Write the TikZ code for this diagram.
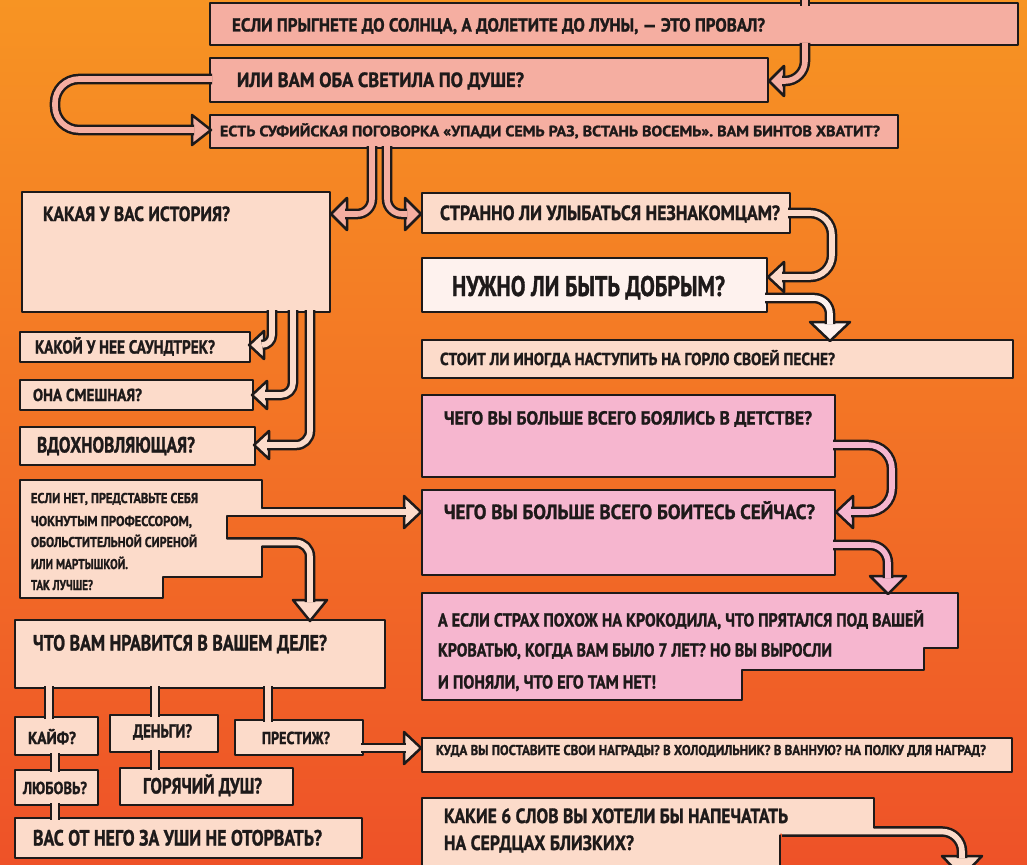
\documentclass[tikz,border=0pt]{standalone}
\usepackage{fontspec}
\setmainfont{PT Sans}[BoldFeatures={FakeBold=1.4}]
\usepackage{graphicx}
\usetikzlibrary{calc}
\definecolor{bgA}{HTML}{F79423}
\definecolor{bgB}{HTML}{F37424}
\definecolor{bgC}{HTML}{EE5228}
\definecolor{salmon}{HTML}{F5AEA1}
\definecolor{peach}{HTML}{FCDBCA}
\definecolor{palew}{HTML}{FEF2EE}
\definecolor{pinkb}{HTML}{F6B6CF}
\definecolor{ink}{HTML}{1E1A1A}
\newcommand\cf[1]{\fontsize{#1pt}{#1pt}\selectfont\bfseries}
\newcommand\fw[2]{\resizebox{#1pt}{\height}{#2}}
\begin{document}
\begin{tikzpicture}[x=1pt,y=-1pt,
  bx/.style={draw=ink, line width=2.5pt, line join=round, inner sep=0pt, outer sep=0pt, anchor=north west},
  ghost/.style={inner sep=0pt, outer sep=0pt, anchor=north west},
  lab/.style={anchor=base west, inner sep=0pt, outer sep=0pt, text=ink},
  fat/.style={draw=ink, double=#1, double distance=5.6pt, line width=2.5pt, line join=round},
  rim/.style={draw=ink, line width=2.5pt, line join=round, line cap=round},
  pics/ah/.style args={#1/#2/#3}{code={\draw[draw=ink, fill=#1, line width=2.5pt, line join=round] (0pt,0pt) -- (-#2pt,#3pt) -- (-#2pt,-#3pt) -- cycle;}}
]
\useasboundingbox (0,0) rectangle (1027,864);
\clip (0,0) rectangle (1027,864);
\shade[top color=bgA, middle color=bgB, bottom color=bgC] (0,0) rectangle (1027,864);

% ---------- simple boxes ----------
\node[bx, fill=salmon, minimum width=808pt, minimum height=42pt] (b1) at (210,3) {};
\node[bx, fill=salmon, minimum width=558pt, minimum height=44pt] (b2) at (210,58) {};
\node[bx, fill=salmon, minimum width=688pt, minimum height=33pt] (b3) at (210,115) {};
\node[bx, fill=peach, minimum width=308pt, minimum height=120pt] (b4) at (22,192) {};
\node[bx, fill=peach, minimum width=368pt, minimum height=40pt] (s1) at (422,193) {};
\node[bx, fill=palew, minimum width=345pt, minimum height=54pt] (s2) at (422,258) {};
\node[bx, fill=peach, minimum width=591pt, minimum height=38pt] (s3) at (422,340) {};
\node[bx, fill=pinkb, minimum width=413pt, minimum height=82pt] (p1) at (422,395) {};
\node[bx, fill=pinkb, minimum width=413pt, minimum height=85pt] (p2) at (422,490) {};
\node[bx, fill=peach, minimum width=230pt, minimum height=30pt] (l1) at (20,332) {};
\node[bx, fill=peach, minimum width=233pt, minimum height=30pt] (l2) at (20,380) {};
\node[bx, fill=peach, minimum width=235pt, minimum height=38pt] (l3) at (20,427) {};
\node[bx, fill=peach, minimum width=370pt, minimum height=68pt] (w0) at (15,620) {};
\node[bx, fill=peach, minimum width=83pt, minimum height=38pt] (w1) at (15,717) {};
\node[bx, fill=peach, minimum width=108pt, minimum height=37pt] (w2) at (110,715) {};
\node[bx, fill=peach, minimum width=128pt, minimum height=35pt] (w3) at (235,720) {};
\node[bx, fill=peach, minimum width=83pt, minimum height=35pt] (w4) at (15,770) {};
\node[bx, fill=peach, minimum width=173pt, minimum height=37pt] (w5) at (120,768) {};
\node[bx, fill=peach, minimum width=347pt, minimum height=40pt] (w6) at (15,818) {};
\node[bx, fill=peach, minimum width=590pt, minimum height=34pt] (q1) at (422,738) {};

% ---------- stepped boxes ----------
\node[ghost, minimum width=536pt, minimum height=107pt] (p3) at (422,593) {};
\draw[rim, fill=pinkb] (p3.north west) -- (p3.north east) -- (958,648) -- (924,648) -- (924,670) -- (742,670) -- (742,700) -- (p3.south west) -- cycle;

\node[ghost, minimum width=242pt, minimum height=118pt] (e1) at (20,480) {};
\pic[rotate=0] at ($(p2.west |- 0,512)+(-1,0)$) {ah={peach/17/16}};
\draw[fat=peach] ($(e1.east |- 0,512)+(-35,0)$) -- ($(p2.west |- 0,512)+(-16,0)$);
\pic[rotate=-90] at ($(310,0 |- w0.north)+(0,1)$) {ah={peach/21/17}};
\draw[fat=peach, rounded corners=14pt] ($(e1.east |- 0,542.5)+(-35,0)$) -- (310,542.5) -- ($(310,0 |- w0.north)+(0,-18)$);
\fill[peach] (e1.north west) -- (e1.north east) -- (262,509.6) -- (227,509.6) -- (227,544.4) -- (262,544.4) -- (262,577) -- (163,577) -- (163,598) -- (e1.south west) -- cycle;
\draw[rim] (262,508) -- (e1.north east) -- (e1.north west) -- (e1.south west) -- (163,598) -- (163,577) -- (262,577) -- (262,546.5);
\draw[rim] (227,516) -- (227,538.5);

\node[ghost, minimum width=452pt, minimum height=82pt] (k1) at (422,798) {};
\coordinate (koff) at (962,877);
\pic[rotate=-90] at (koff) {ah={peach/21/20}};
\draw[fat=peach, rounded corners=20pt] ($(k1.east |- 0,831.5)+(-92,0)$) -- (962,831.5) -- ($(koff)+(0,-19)$);
\fill[peach] (k1.north west) -- (k1.north east) -- (874,833.5) -- (780,833.5) -- (780,880) -- (k1.south west) -- cycle;
\draw[rim] (874,827.5) -- (k1.north east) -- (k1.north west) -- (422,880);
\draw[rim] (780,835.5) -- (780,880);

% ---------- connectors ----------
\coordinate (offtop) at (805,-10);
\draw[fat=salmon] (offtop) -- ($(805,0 |- b1.north)+(0,3)$);
\pic[rotate=180] at ($(b2.east |- 0,81)+(1,0)$) {ah={salmon/15/15}};
\draw[fat=salmon, rounded corners=20pt] ($(805,0 |- b1.south)+(0,-2)$) -- (805,81) -- ($(b2.east |- 0,81)+(14,0)$);
\pic[rotate=0] at ($(b3.west |- 0,130)+(1,0)$) {ah={salmon/19/15}};
\draw[fat=salmon, rounded corners=24pt] ($(b2.west |- 0,79)+(2,0)$) -- (55,79) -- (55,130) -- ($(b3.west |- 0,130)+(-16,0)$);
\pic[rotate=180] at ($(b4.east |- 0,214)+(1,0)$) {ah={salmon/16/16}};
\draw[fat=salmon, rounded corners=15pt] ($(372,0 |- b3.south)+(0,-2)$) -- (372,214) -- ($(b4.east |- 0,214)+(15,0)$);
\pic[rotate=0] at ($(s1.west |- 0,214)+(-1,0)$) {ah={salmon/16/16}};
\draw[fat=salmon, rounded corners=15pt] ($(387,0 |- b3.south)+(0,-2)$) -- (387,214) -- ($(s1.west |- 0,214)+(-15,0)$);
\pic[rotate=180] at ($(l1.east |- 0,345)+(-1,0)$) {ah={peach/15/14}};
\draw[fat=peach, rounded corners=10pt] ($(272,0 |- b4.south)+(0,-2)$) -- (272,345) -- ($(l1.east |- 0,345)+(12,0)$);
\pic[rotate=180] at ($(l2.east |- 0,395)+(-1,0)$) {ah={peach/15/14}};
\draw[fat=peach, rounded corners=12pt] ($(293,0 |- b4.south)+(0,-2)$) -- (293,395) -- ($(l2.east |- 0,395)+(12,0)$);
\pic[rotate=180] at ($(l3.east |- 0,445)+(-1,0)$) {ah={peach/15/14}};
\draw[fat=peach, rounded corners=14pt] ($(310,0 |- b4.south)+(0,-2)$) -- (310,445) -- ($(l3.east |- 0,445)+(12,0)$);
\pic[rotate=180] at ($(s2.east |- 0,277)+(1,0)$) {ah={peach/16/15}};
\draw[fat=peach, rounded corners=22pt] ($(s1.east |- 0,213)+(-2,0)$) -- (832,213) -- (832,277) -- ($(s2.east |- 0,277)+(15,0)$);
\pic[rotate=-90] at ($(830,0 |- s3.north)+(0,1)$) {ah={palew/19/20}};
\draw[fat=palew, rounded corners=16pt] ($(s2.east |- 0,298)+(-2,0)$) -- (830,298) -- ($(830,0 |- s3.north)+(0,-16)$);
\pic[rotate=180] at ($(p2.east |- 0,512)+(1,0)$) {ah={pinkb/17/16}};
\draw[fat=pinkb, rounded corners=24pt] ($(p1.east |- 0,445)+(-2,0)$) -- (892,445) -- (892,512) -- ($(p2.east |- 0,512)+(16,0)$);
\pic[rotate=-90] at ($(888,0 |- p3.north)+(0,1)$) {ah={pinkb/18/18}};
\draw[fat=pinkb, rounded corners=18pt] ($(p2.east |- 0,545)+(-2,0)$) -- (888,545) -- ($(888,0 |- p3.north)+(0,-15)$);
\draw[fat=peach] ($(49,0 |- w0.south)+(0,-2)$) -- ($(49,0 |- w1.north)+(0,2)$);
\draw[fat=peach] ($(155,0 |- w0.south)+(0,-2)$) -- ($(155,0 |- w2.north)+(0,2)$);
\draw[fat=peach] ($(268,0 |- w0.south)+(0,-2)$) -- ($(268,0 |- w3.north)+(0,2)$);
\draw[fat=peach] ($(55,0 |- w1.south)+(0,-2)$) -- ($(55,0 |- w4.north)+(0,2)$);
\draw[fat=peach] ($(155,0 |- w2.south)+(0,-2)$) -- ($(155,0 |- w5.north)+(0,2)$);
\draw[fat=peach] ($(55,0 |- w4.south)+(0,-2)$) -- ($(55,0 |- w6.north)+(0,2)$);
\pic[rotate=0] at ($(q1.west |- 0,748)+(-1,0)$) {ah={peach/17/16}};
\draw[fat=peach] ($(w3.east |- 0,748)+(-2,0)$) -- ($(q1.west |- 0,748)+(-16,0)$);

% ---------- texts ----------
\node[lab] (t1) at (232,31.5) {\cf{18.8}\fw{533}{ЕСЛИ ПРЫГНЕТЕ ДО СОЛНЦА, А ДОЛЕТИТЕ ДО ЛУНЫ, — ЭТО ПРОВАЛ?}};
\node[lab] (t2) at (237,87) {\cf{20.5}\fw{287}{ИЛИ ВАМ ОБА СВЕТИЛА ПО ДУШЕ?}};
\node[lab] (t3) at (220,136.3) {\cf{15}\fw{660}{ЕСТЬ СУФИЙСКАЯ ПОГОВОРКА «УПАДИ СЕМЬ РАЗ, ВСТАНЬ ВОСЕМЬ». ВАМ БИНТОВ ХВАТИТ?}};
\node[lab] (t4) at (43,221) {\cf{20.5}\fw{187}{КАКАЯ У ВАС ИСТОРИЯ?}};
\node[lab] (t5) at (440,220) {\cf{20.5}\fw{340}{СТРАННО ЛИ УЛЫБАТЬСЯ НЕЗНАКОМЦАМ?}};
\node[lab] (t6) at (452,296) {\cf{28.3}\fw{273}{НУЖНО ЛИ БЫТЬ ДОБРЫМ?}};
\node[lab] (t7) at (440,365) {\cf{17.3}\fw{395}{СТОИТ ЛИ ИНОГДА НАСТУПИТЬ НА ГОРЛО СВОЕЙ ПЕСНЕ?}};
\node[lab] (t8) at (444,424.5) {\cf{18.8}\fw{368}{ЧЕГО ВЫ БОЛЬШЕ ВСЕГО БОЯЛИСЬ В ДЕТСТВЕ?}};
\node[lab] (t9) at (444,519) {\cf{20.5}\fw{371}{ЧЕГО ВЫ БОЛЬШЕ ВСЕГО БОИТЕСЬ СЕЙЧАС?}};
\node[lab] (t10a) at (438,626.5) {\cf{18.8}\fw{486}{А ЕСЛИ СТРАХ ПОХОЖ НА КРОКОДИЛА, ЧТО ПРЯТАЛСЯ ПОД ВАШЕЙ}};
\node[lab] (t10b) at (438,656.5) {\cf{18.8}\fw{394}{КРОВАТЬЮ, КОГДА ВАМ БЫЛО 7 ЛЕТ? НО ВЫ ВЫРОСЛИ}};
\node[lab] (t10c) at (438,688.5) {\cf{18.8}\fw{218}{И ПОНЯЛИ, ЧТО ЕГО ТАМ НЕТ!}};
\node[lab] (t11) at (35,353.5) {\cf{18.8}\fw{180}{КАКОЙ У НЕЕ САУНДТРЕК?}};
\node[lab] (t12) at (33,401) {\cf{17.3}\fw{109}{ОНА СМЕШНАЯ?}};
\node[lab] (t13) at (37,452.5) {\cf{22}\fw{158}{ВДОХНОВЛЯЮЩАЯ?}};
\node[lab] (t14a) at (31,503) {\cf{14.2}\fw{167}{ЕСЛИ НЕТ, ПРЕДСТАВЬТЕ СЕБЯ}};
\node[lab] (t14b) at (31,526) {\cf{14.2}\fw{161}{ЧОКНУТЫМ ПРОФЕССОРОМ,}};
\node[lab] (t14c) at (31,547) {\cf{14.2}\fw{166}{ОБОЛЬСТИТЕЛЬНОЙ СИРЕНОЙ}};
\node[lab] (t14d) at (31,569) {\cf{14.2}\fw{97}{ИЛИ МАРТЫШКОЙ.}};
\node[lab] (t14e) at (31,590) {\cf{14.2}\fw{62}{ТАК ЛУЧШЕ?}};
\node[lab] (t15) at (33,650.5) {\cf{22}\fw{294}{ЧТО ВАМ НРАВИТСЯ В ВАШЕМ ДЕЛЕ?}};
\node[lab] (t16) at (28,744) {\cf{17.3}\fw{48}{КАЙФ?}};
\node[lab] (t17) at (133,737.5) {\cf{18.8}\fw{59}{ДЕНЬГИ?}};
\node[lab] (t18) at (262,744) {\cf{17.3}\fw{68}{ПРЕСТИЖ?}};
\node[lab] (t19) at (23,794) {\cf{17.3}\fw{64}{ЛЮБОВЬ?}};
\node[lab] (t20) at (143,793.5) {\cf{22}\fw{119}{ГОРЯЧИЙ ДУШ?}};
\node[lab] (t21) at (33,845.5) {\cf{22}\fw{289}{ВАС ОТ НЕГО ЗА УШИ НЕ ОТОРВАТЬ?}};
\node[lab] (t22) at (436,755) {\cf{14.2}\fw{550}{КУДА ВЫ ПОСТАВИТЕ СВОИ НАГРАДЫ? В ХОЛОДИЛЬНИК? В ВАННУЮ? НА ПОЛКУ ДЛЯ НАГРАД?}};
\node[lab] (t23a) at (444,823) {\cf{20.5}\fw{344}{КАКИЕ 6 СЛОВ ВЫ ХОТЕЛИ БЫ НАПЕЧАТАТЬ}};
\node[lab] (t23b) at (444,850) {\cf{20.5}\fw{190}{НА СЕРДЦАХ БЛИЗКИХ?}};
\end{tikzpicture}
\end{document}
